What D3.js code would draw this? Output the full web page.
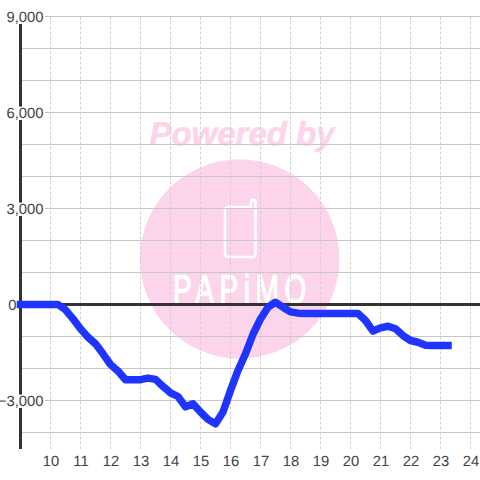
<!DOCTYPE html>
<html>
<head>
<meta charset="utf-8">
<script src="https://cdn.jsdelivr.net/npm/d3@7"></script>
<style>
  html, body { margin: 0; padding: 0; background: #fff; }
  svg { display: block; }
  text { font-family: "Liberation Sans", sans-serif; text-rendering: geometricPrecision; }
</style>
</head>
<body>
<script>
// quarter hours from 9:00
const START_HOUR = 9;
const STEP = 0.25;
const balance = [
  0, 0, 0, 0, 0,
  0, -166, -447, -760, -1020, -1230, -1540, -1875, -2080, -2350, -2350, -2350,
  -2300, -2340, -2560, -2760, -2875, -3200, -3100, -3360, -3590, -3730, -3360,
  -2690, -2060, -1540, -930, -450, -83, 70, -85, -230, -270, -280, -280, -280,
  -280, -280, -280, -280, -280, -500, -830, -730, -680, -760, -970, -1125, -1180,
  -1270, -1280, -1280, -1280
];
const hours = d3.range(10, 25);
const yGrid = d3.range(-4000, 10000, 1000);
const yLabels = [9000, 6000, 3000, 0, -3000];

const width = 480;
const height = 480;

const x = d3.scaleLinear().domain([9, 24]).range([20.5, 470.5]);
const y = d3.scaleLinear().domain([-4000, 9000]).range([432.5, 16.5]);
const bottom = 449;

const svg = d3.select("body").append("svg")
  .attr("width", width)
  .attr("height", height);

// watermark sits under the grid
const mark = svg.append("g");
mark.append("text")
  .attr("x", 242).attr("y", 145)
  .attr("text-anchor", "middle")
  .attr("font-size", 33)
  .attr("font-weight", "bold")
  .attr("font-style", "italic")
  .attr("fill", "#fcd5ec")
  .attr("stroke", "#fcd5ec")
  .attr("stroke-width", 0.6)
  .text("Powered by");
mark.append("circle")
  .attr("cx", 239.7).attr("cy", 259).attr("r", 99.7)
  .attr("fill", "#fcd5ec");
mark.append("path")
  .attr("d", "M229 207H251V202Q251 200 253 200Q255.5 200 255.5 202V253Q255.5 257 251.5 257H229Q225 257 225 253V211Q225 207 229 207Z")
  .attr("fill", "none")
  .attr("stroke", "#fff")
  .attr("stroke-width", 2.6);
mark.append("text")
  .attr("transform", "translate(173,302.5) scale(0.7,1)")
  .attr("font-size", 40)
  .attr("letter-spacing", 8)
  .attr("fill", "#fff")
  .attr("stroke", "#fff")
  .attr("stroke-width", 1.4)
  .text("PAPiMO");

// grid
svg.append("g").selectAll("line")
  .data(hours)
  .enter().append("line")
  .attr("x1", d => x(d)).attr("x2", d => x(d))
  .attr("y1", y(9000)).attr("y2", bottom)
  .attr("stroke", "#d0d0d0")
  .attr("stroke-dasharray", "3,2");

svg.append("g").selectAll("line")
  .data(yGrid)
  .enter().append("line")
  .attr("x1", 20).attr("x2", width)
  .attr("y1", d => y(d)).attr("y2", d => y(d))
  .attr("stroke", "#c8c8c8");

// axes
svg.append("line")
  .attr("x1", 20.5).attr("x2", 20.5)
  .attr("y1", y(9000)).attr("y2", bottom)
  .attr("stroke", "#333")
  .attr("stroke-width", 3);
svg.append("line")
  .attr("x1", 20).attr("x2", width)
  .attr("y1", y(0)).attr("y2", y(0))
  .attr("stroke", "#333")
  .attr("stroke-width", 3);

// y labels have a white box that cuts the axis
const labels = svg.append("g").selectAll("g")
  .data(yLabels)
  .enter().append("g");
labels.filter(d => d !== 0).append("rect")
  .attr("x", 0).attr("width", 45)
  .attr("y", d => y(d) - 6).attr("height", 13.5)
  .attr("fill", "#fff");
labels.append("text")
  .attr("x", d => d === 0 ? 16.5 : 43.5)
  .attr("y", d => y(d))
  .attr("dy", "0.35em")
  .attr("text-anchor", "end")
  .attr("font-size", 14.8)
  .attr("fill", "#444")
  .text(d => d3.format(",")(d));

svg.append("g").selectAll("text")
  .data(hours)
  .enter().append("text")
  .attr("x", d => x(d) + 0.5)
  .attr("y", 466)
  .attr("text-anchor", "middle")
  .attr("font-size", 14.8)
  .attr("fill", "#444")
  .text(d => d);

// balance line
const line = d3.line()
  .x((d, i) => x(START_HOUR + i * STEP))
  .y(d => y(d));

svg.append("path")
  .datum(balance)
  .attr("d", line)
  .attr("fill", "none")
  .attr("stroke", "#1f35ff")
  .attr("stroke-width", 7.5)
  .attr("stroke-linecap", "square")
  .attr("stroke-linejoin", "round");
</script>
</body>
</html>
